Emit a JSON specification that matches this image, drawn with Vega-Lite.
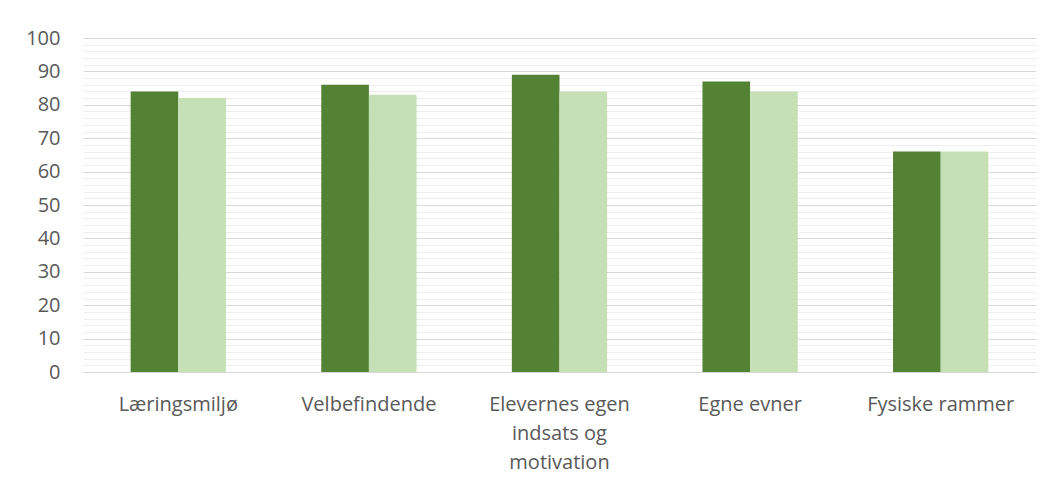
{
  "$schema": "https://vega.github.io/schema/vega-lite/v6.json",
  "autosize": "none",
  "width": 953,
  "height": 334,
  "padding": {"left": 83, "top": 38, "right": 20, "bottom": 114},
  "background": "white",
  "data": {
    "values": [
      {"kategori": "Læringsmiljø", "serie": "A", "værdi": 84},
      {"kategori": "Læringsmiljø", "serie": "B", "værdi": 82},
      {"kategori": "Velbefindende", "serie": "A", "værdi": 86},
      {"kategori": "Velbefindende", "serie": "B", "værdi": 83},
      {"kategori": "Elevernes egen indsats og motivation", "serie": "A", "værdi": 89},
      {"kategori": "Elevernes egen indsats og motivation", "serie": "B", "værdi": 84},
      {"kategori": "Egne evner", "serie": "A", "værdi": 87},
      {"kategori": "Egne evner", "serie": "B", "værdi": 84},
      {"kategori": "Fysiske rammer", "serie": "A", "værdi": 66},
      {"kategori": "Fysiske rammer", "serie": "B", "værdi": 66}
    ]
  },
  "encoding": {
    "x": {
      "field": "kategori",
      "type": "nominal",
      "sort": null,
      "scale": {"paddingInner": 0.5, "paddingOuter": 0.25},
      "axis": {
        "title": null,
        "labelAngle": 0,
        "domain": false,
        "ticks": false,
        "labelPadding": 22,
        "labelFont": "Open Sans",
        "labelFontSize": 20,
        "labelColor": "#595959",
        "labelLineHeight": 29,
        "labelLimit": 300,
        "labelExpr": "datum.label == 'Elevernes egen indsats og motivation' ? ['Elevernes egen', 'indsats og', 'motivation'] : datum.label"
      }
    },
    "xOffset": {"field": "serie", "type": "nominal", "scale": {"paddingInner": 0, "paddingOuter": 0}},
    "color": {
      "field": "serie",
      "type": "nominal",
      "scale": {"domain": ["A", "B"], "range": ["#548235", "#C5E0B4"]},
      "legend": null
    }
  },
  "layer": [
    {
      "mark": {"type": "bar", "opacity": 0},
      "encoding": {
        "y": {
          "field": "værdi",
          "type": "quantitative",
          "scale": {"domain": [0, 100], "nice": false},
          "axis": {
            "orient": "left",
            "title": null,
            "values": [2,4,6,8,12,14,16,18,22,24,26,28,32,34,36,38,42,44,46,48,52,54,56,58,62,64,66,68,72,74,76,78,82,84,86,88,92,94,96,98],
            "labels": false,
            "ticks": false,
            "domain": false,
            "grid": true,
            "gridColor": "#eeeeee",
            "gridWidth": 1
          }
        }
      }
    },
    {
      "mark": {"type": "bar"},
      "encoding": {
        "y": {
          "field": "værdi",
          "type": "quantitative",
          "scale": {"domain": [0, 100], "nice": false},
          "axis": {
            "orient": "left",
            "title": null,
            "values": [0,10,20,30,40,50,60,70,80,90,100],
            "ticks": false,
            "domain": false,
            "grid": true,
            "gridColor": "#d9d9d9",
            "gridWidth": 1,
            "labelPadding": 23,
            "labelFont": "Open Sans",
            "labelFontSize": 20,
            "labelColor": "#595959"
          }
        }
      }
    }
  ],
  "resolve": {"axis": {"y": "independent"}},
  "config": {"view": {"stroke": null}}
}
